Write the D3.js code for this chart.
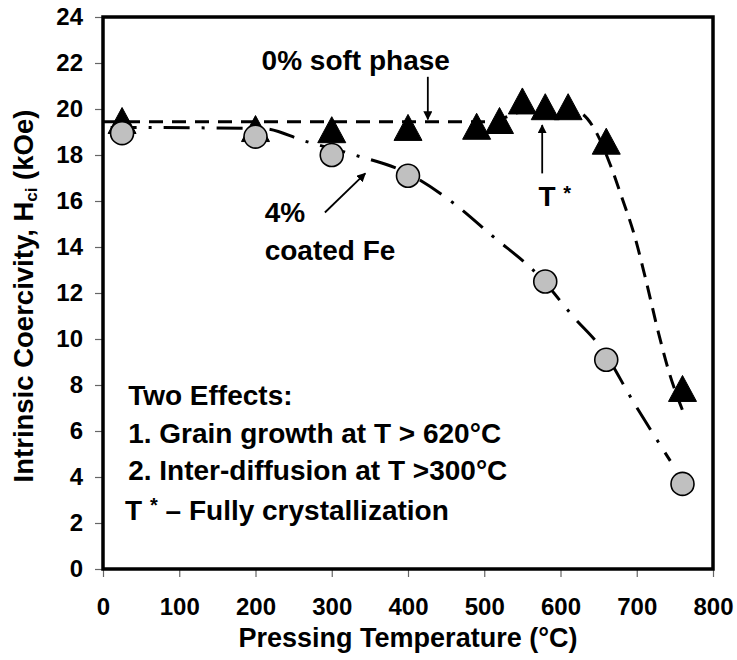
<!DOCTYPE html>
<html>
<head>
<meta charset="utf-8">
<script src="https://cdn.jsdelivr.net/npm/d3@7"></script>
<style>
  body { margin: 0; background: #fff; }
  text { font-family: Arial, "Liberation Sans", sans-serif; font-weight: bold; fill: #000; }
</style>
</head>
<body>
<svg id="chart" width="737" height="660"></svg>
<script>
// Axis ticks
const xTicks = [0, 100, 200, 300, 400, 500, 600, 700, 800];
const yTicks = [0, 2, 4, 6, 8, 10, 12, 14, 16, 18, 20, 22, 24];

// 0% soft phase (triangles): pressing temperature (°C) vs Hci (kOe)
const softTemps = [25, 200, 300, 400, 490, 520, 550, 580, 610, 660, 760];
const softHci   = [19.5, 19.15, 19.1, 19.2, 19.25, 19.5, 20.35, 20.1, 20.1, 18.6, 7.85];

// 4% coated Fe (circles)
const coatedTemps = [25, 200, 300, 400, 580, 660, 760];
const coatedHci   = [18.95, 18.8, 18.0, 17.1, 12.5, 9.1, 3.7];

// Guide-to-the-eye trend curves
const softTrendT = [0, 505, 525, 545, 580, 615, 630, 645, 665, 680, 697, 711, 729, 742, 760];
const softTrendH = [19.45, 19.45, 19.6, 19.85, 19.95, 19.95, 19.75, 19.1, 17.6, 16.2, 14.5, 12.7, 10.2, 8.6, 6.9];
const coatedTrendT = [10, 210, 265, 330, 400, 460, 510, 573, 616, 656, 695, 744];
const coatedTrendH = [19.2, 19.15, 18.6, 18.0, 17.2, 15.9, 14.5, 12.7, 11.0, 9.5, 7.3, 4.7];

const svg = d3.select("#chart");
const margin = { left: 103, right: 24, top: 17, bottom: 91 };
const W = 737, H = 660;

const x = d3.scaleLinear().domain([0, 800]).range([margin.left, W - margin.right]);
const y = d3.scaleLinear().domain([0, 24]).range([H - margin.bottom, margin.top]);

const defs = svg.append("defs");
defs.append("marker")
  .attr("id", "arrowHead")
  .attr("viewBox", "0 0 10 10")
  .attr("refX", 9).attr("refY", 5)
  .attr("markerWidth", 5).attr("markerHeight", 5)
  .attr("markerUnits", "strokeWidth")
  .attr("orient", "auto")
  .append("path")
  .attr("d", "M0,0 L10,5 L0,10 Z")
  .attr("fill", "#000");

// Axes with outward ticks
const xAxis = svg.append("g")
  .attr("transform", `translate(0,${y(0)})`)
  .call(d3.axisBottom(x).tickValues(xTicks).tickSize(8).tickPadding(21).tickFormat(d3.format("d")));
const yAxis = svg.append("g")
  .attr("transform", `translate(${x(0)},0)`)
  .call(d3.axisLeft(y).tickValues(yTicks).tickSize(8).tickPadding(12).tickFormat(d3.format("d")));

[xAxis, yAxis].forEach(g => {
  g.select(".domain").remove();
  g.selectAll(".tick line").attr("stroke", "#666").attr("stroke-width", 1.2);
  g.selectAll(".tick text").style("font-size", "24px").attr("fill", "#000");
});

// Plot frame
svg.append("rect")
  .attr("x", x(0)).attr("y", y(24))
  .attr("width", x(800) - x(0)).attr("height", y(0) - y(24))
  .attr("fill", "none").attr("stroke", "#000").attr("stroke-width", 3.5);

// Trend curves
const line = d3.line().x(d => x(d[0])).y(d => y(d[1])).curve(d3.curveMonotoneX);

svg.append("path")
  .datum(d3.zip(softTrendT, softTrendH))
  .attr("d", line)
  .attr("fill", "none").attr("stroke", "#000").attr("stroke-width", 3)
  .attr("stroke-dasharray", "14,9");

svg.append("path")
  .datum(d3.zip(coatedTrendT, coatedTrendH))
  .attr("d", line)
  .attr("fill", "none").attr("stroke", "#000").attr("stroke-width", 3)
  .attr("stroke-dasharray", "26,12,3,12");

// Triangle markers, centred on their bounding box
const triW = 28, triH = 26;
const triPath = (cx, cy) => {
  const p = d3.path();
  p.moveTo(cx, cy - triH / 2);
  p.lineTo(cx + triW / 2, cy + triH / 2);
  p.lineTo(cx - triW / 2, cy + triH / 2);
  p.closePath();
  return p.toString();
};

svg.append("g").selectAll("path")
  .data(d3.zip(softTemps, softHci))
  .join("path")
  .attr("d", d => triPath(x(d[0]), y(d[1])))
  .attr("fill", "#000").attr("stroke", "#000").attr("stroke-width", 1);

svg.append("g").selectAll("circle")
  .data(d3.zip(coatedTemps, coatedHci))
  .join("circle")
  .attr("cx", d => x(d[0])).attr("cy", d => y(d[1]))
  .attr("r", 11.5)
  .attr("fill", "#c0c0c0").attr("stroke", "#000").attr("stroke-width", 1.6);

// Axis titles
svg.append("text")
  .attr("x", x(400)).attr("y", 647)
  .attr("text-anchor", "middle")
  .style("font-size", "27px")
  .text("Pressing Temperature (°C)");

const yTitle = svg.append("text")
  .attr("transform", `translate(33,${(y(0) + y(24)) / 2 + 3}) rotate(-90)`)
  .attr("text-anchor", "middle")
  .style("font-size", "27.5px");
yTitle.append("tspan").text("Intrinsic Coercivity, H");
yTitle.append("tspan").text("ci").style("font-size", "17px").attr("dy", 4);
yTitle.append("tspan").text(" (kOe)").attr("dy", -4);

// Annotations
const note = (t, v, str) => svg.append("text")
  .attr("x", x(t)).attr("y", y(v))
  .style("font-size", "28px")
  .text(str);

const arrow = (t1, v1, t2, v2) => svg.append("line")
  .attr("x1", x(t1)).attr("y1", y(v1))
  .attr("x2", x(t2)).attr("y2", y(v2))
  .attr("stroke", "#000").attr("stroke-width", 1.8)
  .attr("marker-end", "url(#arrowHead)");

note(208, 21.7, "0% soft phase");
arrow(426, 21.4, 426, 19.55);

const tStar = svg.append("text")
  .attr("x", x(571)).attr("y", y(15.8))
  .style("font-size", "28px");
tStar.append("tspan").text("T ");
tStar.append("tspan").text("*").style("font-size", "20px").attr("dy", -6);
arrow(576, 17.2, 576, 19.3);

note(212, 15.1, "4%");
note(212, 13.45, "coated Fe");
arrow(291, 15.5, 344, 17.2);

note(33, 7.13, "Two Effects:");
note(33, 5.48, "1. Grain growth at T > 620°C");
note(33, 3.87, "2. Inter-diffusion at T >300°C");

const fully = svg.append("text")
  .attr("x", x(29)).attr("y", y(2.13))
  .style("font-size", "28px");
fully.append("tspan").text("T ");
fully.append("tspan").text("*").style("font-size", "20px").attr("dy", -8);
fully.append("tspan").text(" \u2013  Fully crystallization").attr("dy", 8);
</script>
</body>
</html>
